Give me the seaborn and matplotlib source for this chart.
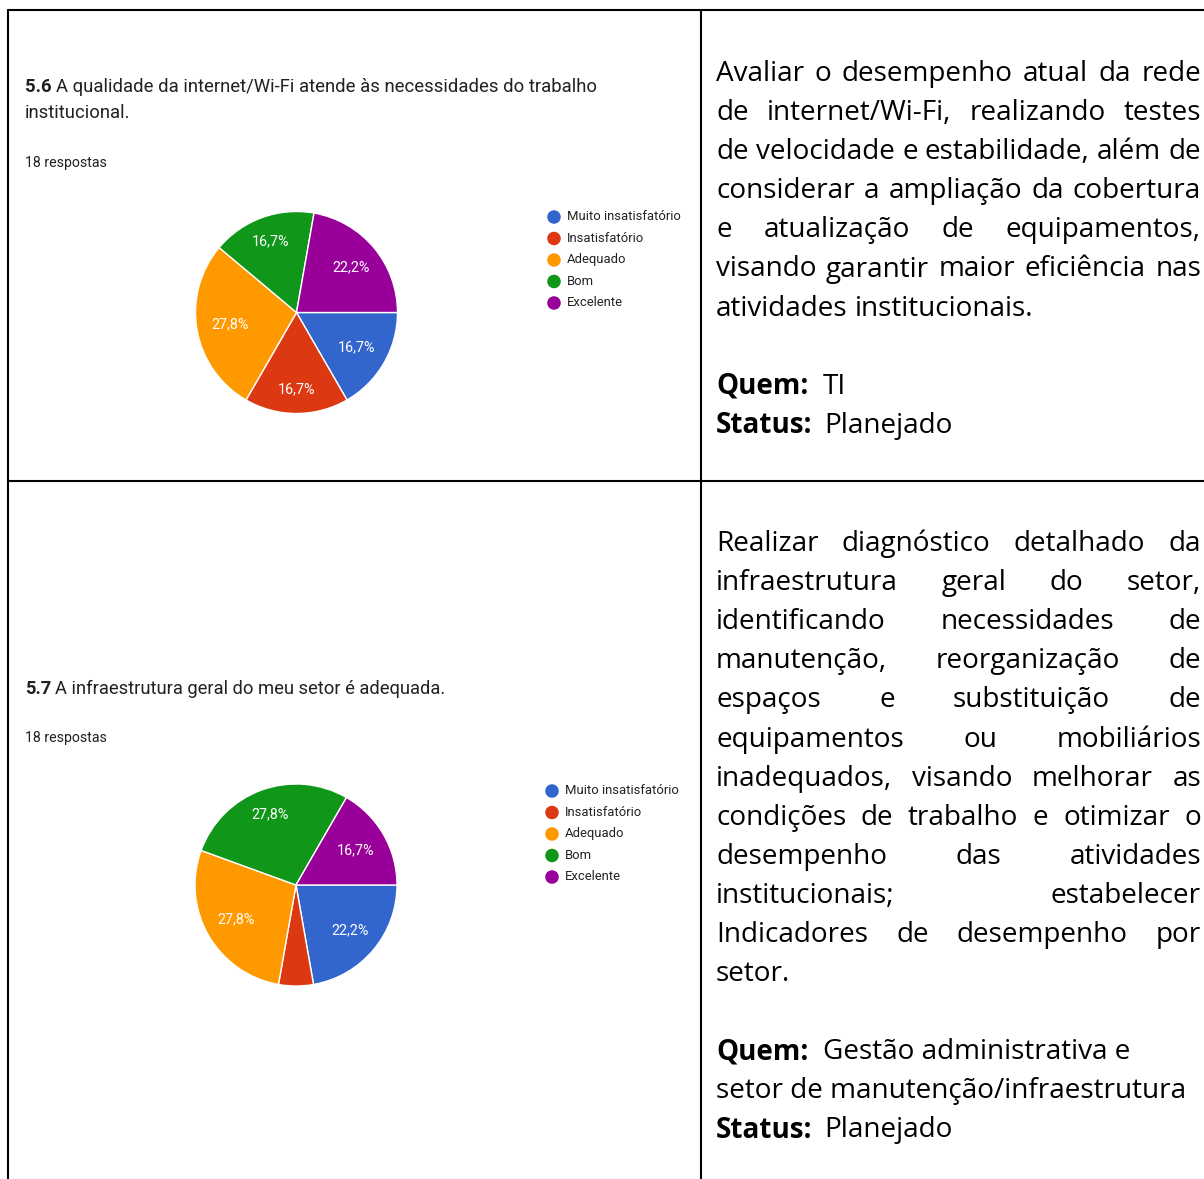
import numpy as np
import matplotlib
matplotlib.use("Agg")
import matplotlib.pyplot as plt
import seaborn as sns

# ==========================================
# Data
# ==========================================

categories = ["Muito insatisfatório", "Insatisfatório", "Adequado", "Bom", "Excelente"]
slice_colors = ["#3366cc", "#dc3912", "#ff9900", "#109618", "#990099"]
n_respostas = 18

q56_counts = [3, 3, 5, 3, 4]
q57_counts = [4, 1, 5, 5, 3]

q56_number = "5.6"
q56_title = ["A qualidade da internet/Wi-Fi atende às necessidades do trabalho",
             "institucional."]
q57_number = "5.7"
q57_title = ["A infraestrutura geral do meu setor é adequada."]

acao_56 = [
    "Avaliar o desempenho atual da rede",
    "de internet/Wi-Fi, realizando testes",
    "de velocidade e estabilidade, além de",
    "considerar a ampliação da cobertura",
    "e atualização de equipamentos,",
    "visando garantir maior eficiência nas",
    "atividades institucionais.",
]
quem_56 = ["TI"]
status_56 = "Planejado"

acao_57 = [
    "Realizar diagnóstico detalhado da",
    "infraestrutura geral do setor,",
    "identificando necessidades de",
    "manutenção, reorganização de",
    "espaços e substituição de",
    "equipamentos ou mobiliários",
    "inadequados, visando melhorar as",
    "condições de trabalho e otimizar o",
    "desempenho das atividades",
    "institucionais; estabelecer",
    "Indicadores de desempenho por",
    "setor.",
]
quem_57 = ["Gestão administrativa e", "setor de manutenção/infraestrutura"]
status_57 = "Planejado"

# ==========================================
# Figure setup
# ==========================================

W, H = 1204, 1179
sns.set_theme(style="white")
plt.rcParams["font.family"] = ["Roboto", "DejaVu Sans"]

fig = plt.figure(figsize=(W / 100, H / 100), dpi=100)
fig.patch.set_facecolor("white")
bg = fig.add_axes([0, 0, 1, 1])
bg.set_xlim(0, W)
bg.set_ylim(H, 0)
bg.axis("off")
renderer = fig.canvas.get_renderer()

# table borders
lw = 1.5
bg.plot([8, 8], [10, H], color="black", lw=lw)
bg.plot([701, 701], [10, H], color="black", lw=lw)
bg.plot([8, W], [10, 10], color="black", lw=lw)
bg.plot([8, W], [481, 481], color="black", lw=lw)

TXT = "#202124"


def width_of(t):
    return t.get_window_extent(renderer).width


# ==========================================
# Left column: Google Forms style pies
# ==========================================

def pct_label(p):
    if p < 8:
        return ""
    return f"{p:.1f}%".replace(".", ",")


def form_block(number, title_lines, counts, title_y, resp_y, cx, cy, leg_x, leg_y, title_fs):
    # title
    for i, line in enumerate(title_lines):
        y = title_y + i * 26
        x = 25
        if i == 0:
            t = bg.text(x, y, number, fontsize=title_fs, fontweight="bold", color=TXT,
                        va="baseline", ha="left")
            x += width_of(t) + 4
        bg.text(x, y, line, fontsize=title_fs, color=TXT, va="baseline", ha="left")
    bg.text(25, resp_y, f"{n_respostas} respostas", fontsize=10.2, color=TXT,
            va="baseline", ha="left")

    # pie
    R = 101
    ax = fig.add_axes([(cx - R) / W, 1 - (cy + R) / H, 2 * R / W, 2 * R / H])
    wedges, _, autotexts = ax.pie(
        counts, colors=slice_colors, startangle=0, counterclock=False,
        autopct=pct_label, pctdistance=0.67,
        wedgeprops=dict(edgecolor="white", linewidth=1),
        textprops=dict(color="white", fontsize=10.3))
    # labels sit a bit further out towards top/bottom, like Google Charts
    for w, at in zip(wedges, autotexts):
        th = np.deg2rad((w.theta1 + w.theta2) / 2)
        r = 0.66 + 0.1 * np.sin(th) ** 2
        at.set_position((r * np.cos(th), r * np.sin(th)))
    ax.set_xlim(-1, 1)
    ax.set_ylim(-1, 1)
    ax.axis("off")

    # legend
    for i, (cat, col) in enumerate(zip(categories, slice_colors)):
        y = leg_y + i * 21.5
        bg.scatter([leg_x], [y], s=95, color=col, edgecolors="none")
        bg.text(leg_x + 13, y, cat, fontsize=9.4, color="#222222", va="center", ha="left")


form_block(q56_number, q56_title, q56_counts, 92, 167, 296.5, 312.5, 554, 217, 13.3)
form_block(q57_number, q57_title, q57_counts, 694, 742, 296, 885, 552, 791, 13.2)

# ==========================================
# Right column: justified action text
# ==========================================

FONT = ["Open Sans", "DejaVu Sans"]
X0, X1 = 716, 1201
LINE = 39.1

# size the font so the longest unjustified line spans like the reference
probe = bg.text(0, -100, quem_57[1], fontsize=20, family=FONT)
FS = 20 * 470 / width_of(probe)
probe.remove()


def put(x, y, s, weight="normal"):
    return bg.text(x, y, s, fontsize=FS, family=FONT, fontweight=weight,
                   color="black", va="baseline", ha="left")


probe_a = put(0, -100, "a a")
probe_b = put(0, -100, "aa")
SPACE = width_of(probe_a) - width_of(probe_b)
probe_a.remove()
probe_b.remove()


def draw_words(words, y, justify):
    texts = [put(X0, y, w, wt) for w, wt in words]
    widths = [width_of(t) for t in texts]
    if justify and len(words) > 1:
        gap = (X1 - X0 - sum(widths)) / (len(words) - 1)
    else:
        gap = SPACE
    x = X0
    for t, w in zip(texts, widths):
        t.set_x(x)
        x += w + gap


def action_block(body, quem, status, y0):
    y = y0
    for i, line in enumerate(body):
        words = [(w, "normal") for w in line.split()]
        draw_words(words, y, justify=(i < len(body) - 1))
        y += LINE
    y += LINE
    for i, line in enumerate(quem):
        if i == 0:
            t = put(X0, y, "Quem:", "bold")
            put(X0 + width_of(t) + 2 * SPACE, y, line)
        else:
            put(X0, y, line)
        y += LINE
    t = put(X0, y, "Status:", "bold")
    put(X0 + width_of(t) + 1.6 * SPACE, y, status)


action_block(acao_56, quem_56, status_56, 81)
action_block(acao_57, quem_57, status_57, 551)

fig.savefig("out.png", dpi=100, facecolor="white")
